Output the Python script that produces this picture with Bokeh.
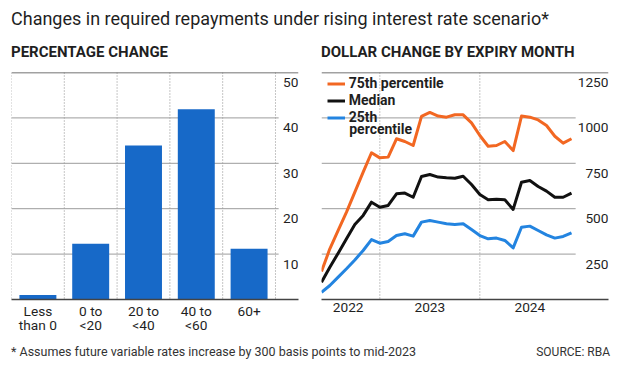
from bokeh.plotting import figure
from bokeh.models import Range1d, FixedTicker, Span, Legend, LegendItem, Label, Div
from bokeh.layouts import column, row
from bokeh.embed import file_html
from bokeh.resources import INLINE
from bokeh.core.properties import value

# ---------------- data ----------------
title_text = "Changes in required repayments under rising interest rate scenario*"
left_subtitle = "PERCENTAGE CHANGE"
right_subtitle = "DOLLAR CHANGE BY EXPIRY MONTH"
footnote = "* Assumes future variable rates increase by 300 basis points to mid-2023"
source = "SOURCE: RBA"

categories = ["Less\nthan 0", "0 to\n<20", "20 to\n<40", "40 to\n<60", "60+"]
pct_share = [1.0, 12.3, 33.9, 41.9, 11.2]
pct_ticks = [10, 20, 30, 40, 50]

months = ["2022-06", "2022-07", "2022-08", "2022-09", "2022-10", "2022-11", "2022-12",
          "2023-01", "2023-02", "2023-03", "2023-04", "2023-05", "2023-06",
          "2023-07", "2023-08", "2023-09", "2023-10", "2023-11", "2023-12",
          "2024-01", "2024-02", "2024-03", "2024-04", "2024-05", "2024-06",
          "2024-07", "2024-08", "2024-09", "2024-10", "2024-11", "2024-12"]
p75 = [154, 279, 380, 481, 591, 701, 808, 780, 784, 885, 870, 848, 1008, 1030, 1010,
       1004, 1017, 1017, 973, 903, 844, 848, 870, 820, 1010, 1004, 989, 958, 899, 861, 885]
median = [95, 178, 255, 334, 413, 463, 536, 508, 518, 582, 586, 563, 677, 688, 674,
          670, 668, 679, 633, 578, 549, 552, 549, 496, 646, 655, 622, 597, 563, 563, 586]
p25 = [40, 77, 123, 169, 218, 270, 330, 310, 319, 352, 362, 349, 426, 435, 426,
       417, 413, 417, 385, 352, 334, 338, 325, 284, 398, 404, 380, 356, 338, 347, 367]
dollar_ticks = [250, 500, 750, 1000, 1250]
year_labels = ["2022", "2023", "2024"]
year_label_month = [3.2, 13, 25]          # month index where each year label sits
year_starts = ["2023-01", "2024-01"]
series_labels = ["75th percentile", "Median", "25th", "percentile"]

# ---------------- style ----------------
FONT = "Roboto"
TXT = "#1f1f1f"
BAR = "#1769c8"
ORANGE = "#f26722"
BLACK = "#111111"
BLUE = "#2384e0"
GRID = "#9c9c9c"
DARK = "#444444"
DOT = "#8c8c8c"
TICK_FS = "13.7px"


def base_fig(xr, yr, mbl, mbr):
    p = figure(width=310, height=268, x_range=xr, y_range=yr,
               output_backend="svg", toolbar_location=None, y_axis_location=None,
               min_border_left=mbl, min_border_right=mbr,
               min_border_top=4, min_border_bottom=37, margin=0)
    p.xgrid.visible = False
    p.ygrid.visible = False
    p.outline_line_color = None
    p.background_fill_color = "white"
    p.border_fill_color = "white"
    ax = p.xaxis[0]
    ax.axis_line_color = DARK
    ax.axis_line_width = 1.5
    ax.major_tick_line_color = None
    ax.minor_tick_line_color = None
    ax.major_tick_out = 0
    ax.minor_tick_out = 0
    ax.major_tick_in = 0
    ax.minor_tick_in = 0
    ax.major_label_standoff = 3
    ax.major_label_text_font = FONT
    ax.major_label_text_font_size = TICK_FS
    ax.major_label_text_color = TXT
    ax.major_label_text_line_height = 0.9
    return p


# ---------------- left: percentage change ----------------
n = len(categories)
centers = [i + 0.5 for i in range(n)]
left_end = 5.436
left_grid_end = 5.06
pl = base_fig(Range1d(0, left_end), Range1d(0, pct_ticks[-1]), 11, 12)

pl.segment(x0=[0] * (len(pct_ticks) - 1), x1=[left_grid_end] * (len(pct_ticks) - 1),
           y0=pct_ticks[:-1], y1=pct_ticks[:-1], line_color=GRID, line_width=1)
pl.add_layout(Span(location=pct_ticks[-1], dimension="width", line_color=DARK, line_width=1.5))
for b in range(n + 1):
    pl.add_layout(Span(location=b, dimension="height", line_color=DOT, line_width=1,
                       line_dash="1 2", level="underlay"))
pl.vbar(x=centers, top=pct_share, width=0.7, color=BAR, line_color=None)
pl.text(x=[left_end] * len(pct_ticks), y=pct_ticks, text=[str(t) for t in pct_ticks],
        text_align="right", text_baseline="middle", y_offset=10,
        text_font=value(FONT), text_font_size=TICK_FS, text_color=TXT)
pl.xaxis.ticker = FixedTicker(ticks=centers)
pl.xaxis.major_label_overrides = {c: lab for c, lab in zip(centers, categories)}

# ---------------- right: dollar change by expiry month ----------------
mx = list(range(len(months)))
right_end = 34.44
right_grid_end = 30.5
pr = base_fig(Range1d(0, right_end), Range1d(0, dollar_ticks[-1]), 11, 12)

pr.segment(x0=[0] * (len(dollar_ticks) - 1), x1=[right_grid_end] * (len(dollar_ticks) - 1),
           y0=dollar_ticks[:-1], y1=dollar_ticks[:-1], line_color=GRID, line_width=1)
pr.add_layout(Span(location=dollar_ticks[-1], dimension="width", line_color=DARK, line_width=1.5))
for ys in year_starts:
    pr.add_layout(Span(location=months.index(ys), dimension="height", line_color=DOT,
                       line_width=1, line_dash="1 2", level="underlay"))

r75 = pr.line(mx, p75, line_color=ORANGE, line_width=3, line_join="round")
rmed = pr.line(mx, median, line_color=BLACK, line_width=3, line_join="round")
r25 = pr.line(mx, p25, line_color=BLUE, line_width=3, line_join="round")

pr.text(x=[right_end] * len(dollar_ticks), y=dollar_ticks, text=[str(t) for t in dollar_ticks],
        text_align="right", text_baseline="middle", y_offset=10,
        text_font=value(FONT), text_font_size=TICK_FS, text_color=TXT)
pr.xaxis.ticker = FixedTicker(ticks=year_label_month)
pr.xaxis.major_label_overrides = {m: lab for m, lab in zip(year_label_month, year_labels)}

legend = Legend(items=[LegendItem(label=series_labels[0], renderers=[r75]),
                       LegendItem(label=series_labels[1], renderers=[rmed]),
                       LegendItem(label=series_labels[2], renderers=[r25])],
                location=(5.7, 173.2), padding=0, margin=0, spacing=0,
                glyph_width=18, glyph_height=17, label_height=17, label_standoff=4,
                label_text_font=FONT, label_text_font_size="14px",
                label_text_font_style="bold", label_text_color=TXT,
                background_fill_alpha=0, border_line_alpha=0)
pr.add_layout(legend)
pr.add_layout(Label(x=27.7, y=170.7, x_units="screen", y_units="screen",
                    text=series_labels[3], text_font=FONT, text_font_size="14px",
                    text_font_style="bold", text_color=TXT, text_baseline="middle"))

# ---------------- header / footer ----------------
header_html = (
    f'<div style="height:68px;width:620px;overflow:hidden">'
    f'<div style="font-family:{FONT};font-size:18px;line-height:20px;color:{TXT};'
    f'padding:9px 0 0 11px;white-space:nowrap">{title_text}</div>'
    f'<div style="display:flex;margin-top:14px;font-family:{FONT};font-weight:700;'
    f'font-size:15px;line-height:18px;color:{TXT};white-space:nowrap">'
    f'<div style="width:321px;padding-left:11px;box-sizing:border-box">{left_subtitle}</div>'
    f'<div>{right_subtitle}</div></div></div>'
)
header = Div(text=header_html, width=620, height=68, margin=0)

footer_html = (
    f'<div style="display:flex;justify-content:space-between;width:620px;height:29px;'
    f'box-sizing:border-box;font-family:{FONT};font-size:12.5px;line-height:16px;color:#333;'
    f'padding:8px 10px 0 11px;white-space:nowrap;overflow:hidden">'
    f'<span>{footnote}</span><span style="font-size:12px">{source}</span></div>'
)
footer = Div(text=footer_html, width=620, height=29, margin=0)

layout = column(header, row(pl, pr, margin=0), footer, margin=0)
open("out.html", "w").write(file_html(layout, INLINE))
